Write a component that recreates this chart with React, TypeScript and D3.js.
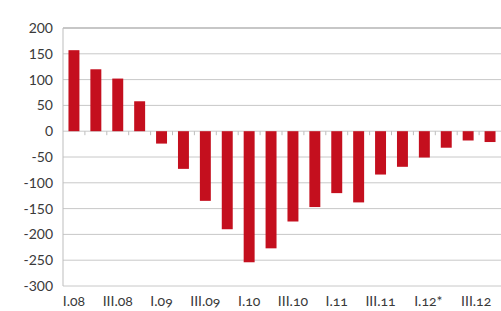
import React from "react";
import * as d3 from "d3";

const quarters = [
  "I.08", "II.08", "III.08", "IV.08",
  "I.09", "II.09", "III.09", "IV.09",
  "I.10", "II.10", "III.10", "IV.10",
  "I.11", "II.11", "III.11", "IV.11",
  "I.12*", "II.12", "III.12", "IV.12",
];

const values = [
  157, 120, 102, 58,
  -24, -73, -135, -190,
  -254, -227, -175, -147,
  -120, -138, -84, -69,
  -51, -32, -18, -21,
];

const yTicks = [200, 150, 100, 50, 0, -50, -100, -150, -200, -250, -300];

// only every second quarter gets a label
const shownLabels = ["I.08", "III.08", "I.09", "III.09", "I.10", "III.10", "I.11", "III.11", "I.12*", "III.12"];

const W = 501;
const H = 311;
const margin = { top: 28, right: 0, bottom: 25, left: 63 };

const App = () => {
  const x = d3
    .scaleBand()
    .domain(quarters)
    .range([margin.left, W - margin.right])
    .paddingInner(0.5)
    .paddingOuter(0.25);

  const y = d3
    .scaleLinear()
    .domain([-300, 200])
    .range([H - margin.bottom, margin.top]);

  const step = x.step();
  const font = "Lato, 'Open Sans', sans-serif";

  return (
    <svg
      width={W}
      height={H}
      style={{ position: "absolute", left: 0, top: 0, background: "#fff" }}
      fontFamily={font}
    >
      {/* gridlines */}
      {yTicks.map((t) => (
        <line
          key={t}
          x1={margin.left}
          x2={W - margin.right}
          y1={y(t)}
          y2={y(t)}
          stroke={t === 200 ? "#b5b5b5" : "#c8c8c8"}
          strokeWidth={t === 200 ? 1.6 : 1}
        />
      ))}
      {/* y axis line */}
      <line x1={margin.left} x2={margin.left} y1={y(200)} y2={y(-300)} stroke="#bdbdbd" />

      {/* y tick labels */}
      {yTicks.map((t) => (
        <text
          key={"l" + t}
          x={53}
          y={y(t)}
          dy="0.35em"
          textAnchor="end"
          fontSize={14}
          fill="#3a3a3a"
        >
          {t}
        </text>
      ))}

      {/* bars */}
      {quarters.map((q, i) => {
        const v = values[i];
        return (
          <rect
            key={q}
            x={x(q)}
            width={x.bandwidth()}
            y={Math.min(y(v), y(0))}
            height={Math.abs(y(v) - y(0))}
            fill="#c40f1e"
          />
        );
      })}

      {/* small category ticks below the zero line */}
      {quarters.slice(1).map((q) => {
        const bx = (x(q) as number) - (step - x.bandwidth()) / 2;
        return (
          <line key={"t" + q} x1={bx} x2={bx} y1={y(0)} y2={y(0) + 4} stroke="#bdbdbd" />
        );
      })}

      {/* x labels */}
      {shownLabels.map((q, i) => (
        <text
          key={"x" + q}
          x={(x(q) as number) + x.bandwidth() / 2 + (i >= 8 ? (i - 7) * 4 : 0)}
          y={H - 5}
          textAnchor="middle"
          fontSize={14}
          fill="#3a3a3a"
          style={{ fontVariantNumeric: "oldstyle-nums" }}
        >
          {q}
        </text>
      ))}
    </svg>
  );
};

export default App;
